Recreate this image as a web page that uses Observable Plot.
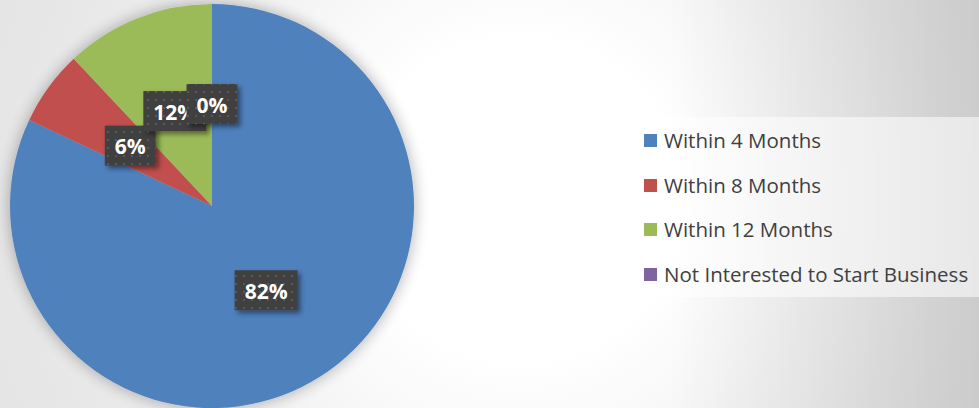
<!DOCTYPE html>
<html><head><meta charset="utf-8">
<script src="https://cdn.jsdelivr.net/npm/d3@7"></script>
<script src="https://cdn.jsdelivr.net/npm/@observablehq/plot@0.6"></script>
<style>
html,body{margin:0;padding:0;background:#fff;}
#wrap{position:relative;width:979px;height:408px;overflow:hidden;
  background:
    linear-gradient(to right, rgba(0,0,0,0) 68%, rgba(0,0,0,0.12) 100%),
    radial-gradient(circle at 520px 200px, #ffffff 0px, #ffffff 160px, #ebebeb 420px, #e2e2e2 600px);}
#wrap svg{position:absolute;left:0;top:0;}
#legend{position:absolute;left:632px;top:117px;width:347px;height:180px;background:rgba(255,255,255,0.55);
  font-family:"Open Sans", sans-serif;font-size:20.5px;color:#404040;}
.item{position:absolute;left:12px;height:24px;display:flex;align-items:center;white-space:nowrap;}
.sw{width:13px;height:13px;margin-right:7px;flex:none;}
</style></head><body><div id="wrap"></div>
<script>
const categories = ["Within 4 Months", "Within 8 Months", "Within 12 Months", "Not Interested to Start Business"];
const shares = [82, 6, 12, 0];
const sliceColors = ["#4F81BD", "#C0504D", "#9BBB59", "#8064A2"];

const rows = categories.map((c, i) => ({category: c, value: shares[i]}));
const arcs = d3.pie().sort(null).value(d => d.value)(rows);
const labels = arcs.map(a => {
  const mid = (a.startAngle + a.endAngle) / 2;
  return {text: a.data.value + "%", lx: 0.5 * Math.sin(mid), ly: 0.5 * Math.cos(mid), category: a.data.category};
});

function colorOf(scales, cat) {
  return scales.color ? scales.color(cat) : sliceColors[categories.indexOf(cat)];
}

function pieMark(index, scales) {
  const cx = scales.x(0), cy = scales.y(0), r = scales.x(1) - cx;
  const g = d3.create("svg:g");
  const defs = g.append("defs");
  const f = defs.append("filter").attr("id", "pieShadow").attr("x", "-20%").attr("y", "-20%").attr("width", "140%").attr("height", "140%");
  f.append("feGaussianBlur").attr("in", "SourceAlpha").attr("stdDeviation", 8).attr("result", "b");
  f.append("feComponentTransfer").attr("in", "b").attr("result", "c").append("feFuncA").attr("type", "linear").attr("slope", 0.32);
  const m = f.append("feMerge");
  m.append("feMergeNode").attr("in", "c");
  m.append("feMergeNode").attr("in", "SourceGraphic");
  const arc = d3.arc().innerRadius(0).outerRadius(r);
  g.append("g").attr("filter", "url(#pieShadow)").attr("transform", `translate(${cx},${cy})`)
    .selectAll("path").data(arcs).join("path")
    .attr("d", arc).attr("fill", d => colorOf(scales, d.data.category));
  return g.node();
}

function labelMark(index, scales) {
  const g = d3.create("svg:g");
  const defs = g.append("defs");
  const p = defs.append("pattern").attr("id", "dots").attr("width", 8).attr("height", 8).attr("patternUnits", "userSpaceOnUse");
  p.append("rect").attr("width", 8).attr("height", 8).attr("fill", "#3f3f3f");
  p.append("rect").attr("x", 3).attr("y", 3).attr("width", 2).attr("height", 2).attr("fill", "#585858");
  const f = defs.append("filter").attr("id", "boxShadow").attr("x", "-30%").attr("y", "-30%").attr("width", "160%").attr("height", "160%");
  f.append("feDropShadow").attr("dx", 3).attr("dy", 3).attr("stdDeviation", 2.5).attr("flood-color", "#000").attr("flood-opacity", 0.45);
  const ctx = document.createElement("canvas").getContext("2d");
  const fam = "'Open Sans', sans-serif";
  ctx.font = "bold 21px " + fam;
  for (const d of labels) {
    const x = scales.x(d.lx), y = scales.y(d.ly);
    const tw = ctx.measureText(d.text).width;
    const w = tw + 20, h = 40;
    const lg = g.append("g");
    lg.append("rect").attr("x", x - w / 2).attr("y", y - h / 2 - 1).attr("width", w).attr("height", h)
      .attr("fill", "url(#dots)").attr("filter", "url(#boxShadow)");
    lg.append("text").attr("x", x).attr("y", y).attr("dy", "0.36em").attr("text-anchor", "middle")
      .attr("fill", "#fff").attr("font-family", fam).attr("font-weight", "bold")
      .attr("font-size", 21).text(d.text);
  }
  return g.node();
}

const chart = Plot.plot({
  width: 979,
  height: 408,
  margin: 0,
  x: {domain: [-1, 1], range: [10, 414], axis: null},
  y: {domain: [-1, 1], range: [408, 4], axis: null},
  color: {domain: categories, range: sliceColors},
  style: {background: "transparent", overflow: "visible"},
  marks: [
    Plot.dot(labels, {x: "lx", y: "ly", fill: "category", r: 0}),
    pieMark,
    labelMark
  ]
});

const wrap = document.getElementById("wrap");
wrap.appendChild(chart);

const colorScale = chart.scale("color");
const legend = document.createElement("div");
legend.id = "legend";
const rowY = [23, 68, 112, 157];
categories.forEach((c, i) => {
  const it = document.createElement("div");
  it.className = "item";
  it.style.top = (rowY[i] - 12) + "px";
  const sw = document.createElement("span");
  sw.className = "sw";
  sw.style.background = colorScale.range[i];
  const t = document.createElement("span");
  t.textContent = c;
  it.appendChild(sw);
  it.appendChild(t);
  legend.appendChild(it);
});
wrap.appendChild(legend);
</script>
</body></html>
